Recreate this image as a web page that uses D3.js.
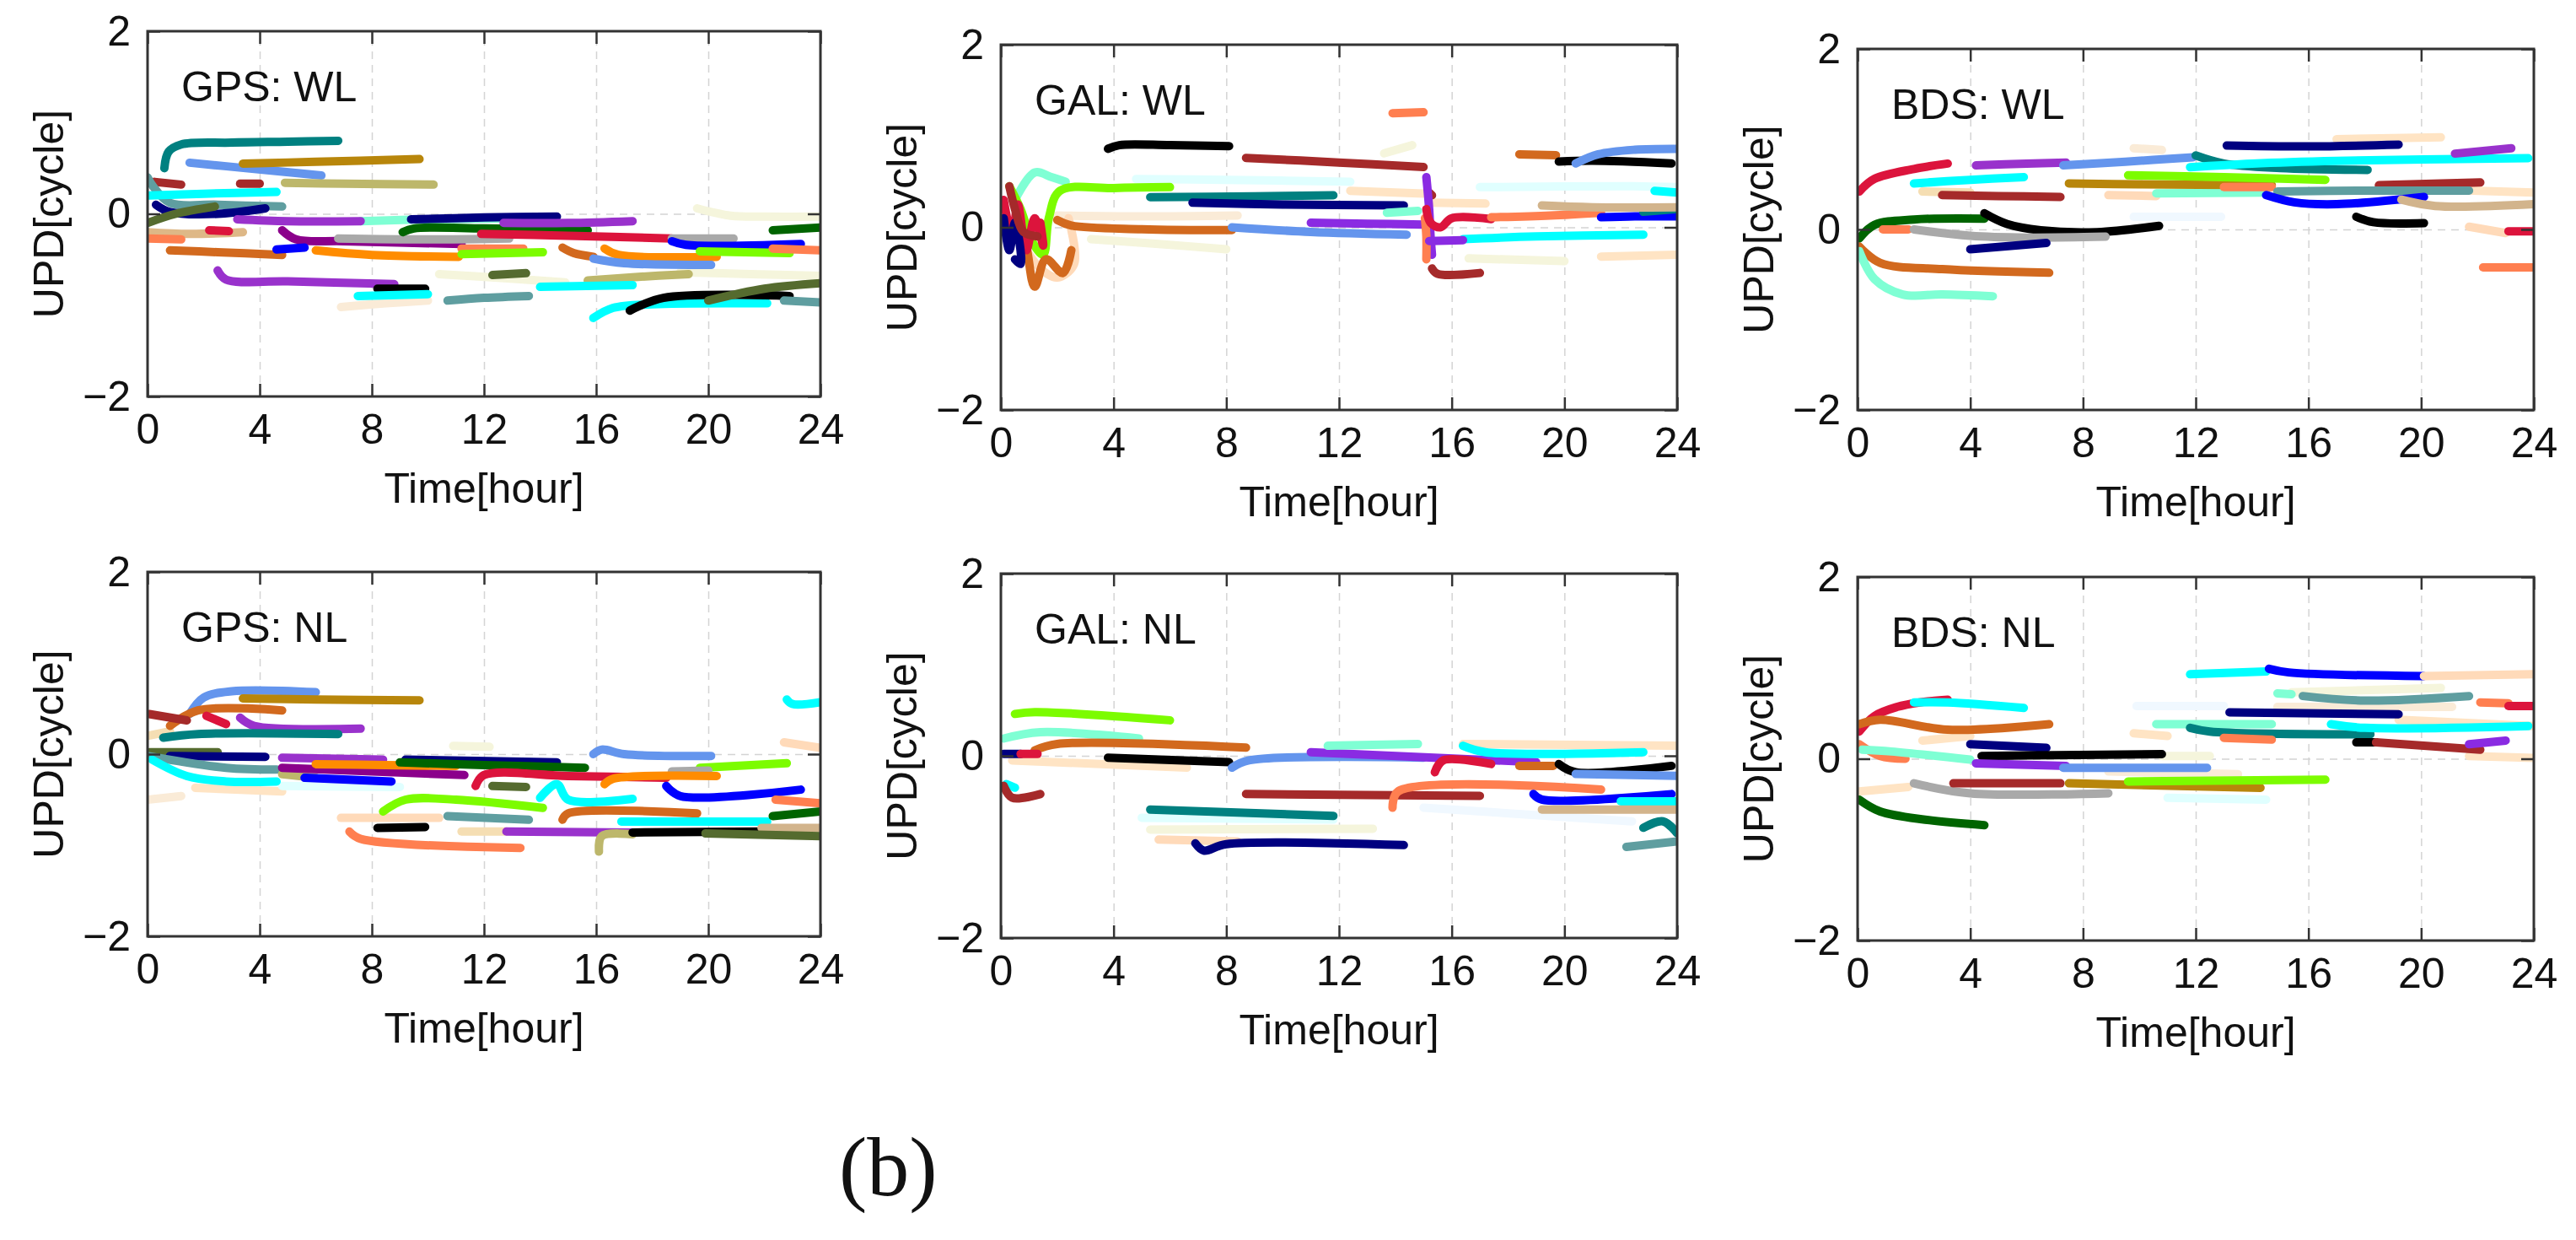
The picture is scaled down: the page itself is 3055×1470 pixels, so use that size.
<!DOCTYPE html>
<html>
<head>
<meta charset="utf-8">
<script src="https://cdn.jsdelivr.net/npm/d3@7"></script>
<style>
  body { margin: 0; background: #fff; }
  svg { display: block; }
  text { font-family: "Liberation Sans", Arial, sans-serif; fill: #111; }
</style>
</head>
<body>
<svg id="chart"></svg>
<script>
const xTicks = [0, 4, 8, 12, 16, 20, 24];
const yTicks = [-2, 0, 2];
const gridHours = [4, 8, 12, 16, 20];
const panelTitles = ['GPS: WL', 'GAL: WL', 'BDS: WL', 'GPS: NL', 'GAL: NL', 'BDS: NL'];
const xLabel = 'Time[hour]';
const yLabel = 'UPD[cycle]';
const figureTag = '(b)';

// one entry per satellite arc: [colour name, [[hour, cycle], ...]]
const gpsWL = [
  ['beige', [[10.4, -0.66], [12.5, -0.7], [14.9, -0.75]]],
  ['beige', [[19.0, -0.64], [21.5, -0.66], [24, -0.68]]],
  ['antiquewhite', [[6.9, -1.02], [8.5, -0.98], [10, -0.95]]],
  ['beige', [[19.6, 0.06], [20.8, -0.02], [22, -0.03], [24, -0.03]]],
  ['burlywood', [[0, -0.2], [1.5, -0.22], [3.4, -0.2]]],
  ['aquamarine', [[7.6, -0.08], [10, -0.06], [12.9, -0.05]]],
  ['teal', [[0.6, 0.5], [0.75, 0.68], [1.2, 0.76], [3, 0.78], [5, 0.79], [6.8, 0.8]]],
  ['cornflowerblue', [[1.5, 0.56], [3.5, 0.5], [6.2, 0.42]]],
  ['darkgoldenrod', [[3.4, 0.55], [6, 0.57], [9.7, 0.6]]],
  ['brown', [[0.25, 0.35], [1.2, 0.32]]],
  ['brown', [[3.3, 0.33], [4, 0.33]]],
  ['darkkhaki', [[4.9, 0.34], [7, 0.33], [10.2, 0.32]]],
  ['cadetblue', [[0, 0.4], [0.2, 0.3], [0.8, 0.12], [2.5, 0.1], [4.8, 0.08]]],
  ['cyan', [[0.05, 0.2], [2, 0.22], [4.6, 0.24]]],
  ['navy', [[0.3, 0.1], [0.8, 0.02], [2.5, 0.0], [4.2, 0.06]]],
  ['darkolivegreen', [[0, -0.1], [1, 0.0], [2.4, 0.08]]],
  ['darkorchid', [[3.2, -0.06], [5, -0.08], [7.6, -0.08]]],
  ['darkmagenta', [[4.8, -0.18], [5.3, -0.28], [7, -0.3], [11.2, -0.33]]],
  ['crimson', [[2.2, -0.18], [2.9, -0.19]]],
  ['coral', [[0, -0.27], [1.2, -0.28]]],
  ['chocolate', [[0.8, -0.4], [2.5, -0.42], [4.8, -0.45]]],
  ['blue', [[4.6, -0.39], [5.6, -0.37]]],
  ['darkorange', [[6, -0.4], [8, -0.45], [11.1, -0.47]]],
  ['darkgray', [[6.8, -0.27], [10, -0.28], [12.9, -0.27]]],
  ['navy', [[9.4, -0.06], [12, -0.04], [14.6, -0.03]]],
  ['darkgreen', [[9.1, -0.2], [9.5, -0.16], [12, -0.16], [15.7, -0.18]]],
  ['darkorchid', [[12.7, -0.1], [15, -0.1], [17.3, -0.08]]],
  ['crimson', [[11.9, -0.22], [15, -0.24], [18.7, -0.27]]],
  ['coral', [[11.2, -0.38], [13.4, -0.38]]],
  ['lawngreen', [[11.2, -0.44], [14.1, -0.42]]],
  ['chocolate', [[14.8, -0.37], [15.2, -0.43], [15.9, -0.47]]],
  ['darkorange', [[16.3, -0.38], [16.8, -0.45], [20.3, -0.47]]],
  ['cornflowerblue', [[15.9, -0.49], [17, -0.54], [20.1, -0.56]]],
  ['darkgray', [[18.7, -0.27], [20.9, -0.27]]],
  ['blue', [[18.7, -0.3], [19.2, -0.34], [23.3, -0.33]]],
  ['lawngreen', [[19.7, -0.41], [22.9, -0.43]]],
  ['darkgreen', [[22.3, -0.18], [24, -0.15]]],
  ['coral', [[22.3, -0.38], [24, -0.4]]],
  ['darkorchid', [[2.5, -0.62], [2.8, -0.72], [5, -0.74], [8.8, -0.77]]],
  ['black', [[8.2, -0.82], [9.9, -0.82]]],
  ['cyan', [[7.5, -0.9], [10, -0.88]]],
  ['cadetblue', [[10.7, -0.95], [12, -0.92], [13.6, -0.9]]],
  ['darkolivegreen', [[12.3, -0.67], [13.5, -0.65]]],
  ['darkkhaki', [[15.7, -0.73], [17.5, -0.69], [19.3, -0.66]]],
  ['cyan', [[14, -0.8], [17.3, -0.78]]],
  ['cyan', [[15.9, -1.14], [16.6, -1.03], [18, -0.99], [22.1, -0.98]]],
  ['black', [[17.2, -1.06], [18.4, -0.92], [22.9, -0.9]]],
  ['darkolivegreen', [[20, -0.95], [22, -0.82], [24, -0.76]]],
  ['cadetblue', [[22.7, -0.95], [24, -0.97]]]
];

const galWL = [
  ['lightcyan', [[4.8, 0.53], [8, 0.52], [12.4, 0.5]]],
  ['antiquewhite', [[2, 0.13], [5, 0.12], [8.4, 0.13]]],
  ['beige', [[3.2, -0.13], [5.5, -0.18], [8, -0.24]]],
  ['bisque', [[12.4, 0.4], [15, 0.37]]],
  ['beige', [[13.6, 0.81], [14.6, 0.9]]],
  ['lightcyan', [[17, 0.44], [22.4, 0.45], [24, 0.44]]],
  ['bisque', [[15.2, 0.27], [17.2, 0.26]]],
  ['beige', [[16.6, -0.34], [20, -0.37]]],
  ['bisque', [[21.3, -0.32], [24, -0.3]]],
  ['peachpuff', [[0.8, -0.2], [1.4, -0.45], [2, -0.55], [2.6, -0.4], [2.4, 0.1]]],
  ['aquamarine', [[0.5, 0.3], [1.2, 0.6], [1.8, 0.55], [2.3, 0.5]]],
  ['lawngreen', [[0.3, 0.45], [0.7, 0.2], [1.1, -0.15], [1.5, -0.3], [1.7, 0.1], [2.1, 0.4], [4, 0.43], [6, 0.44]]],
  ['chocolate', [[0.5, 0.25], [0.9, -0.2], [1.2, -0.65], [1.6, -0.35], [2.2, -0.5], [2.5, -0.25]]],
  ['chocolate', [[2, 0.08], [2.5, 0.02], [5, -0.02], [8.2, -0.03]]],
  ['crimson', [[0.1, 0.3], [0.4, -0.1], [0.6, 0.25], [0.9, -0.25], [1.2, 0.1], [1.5, -0.2], [1.4, 0.05]]],
  ['navy', [[0.1, 0.1], [0.3, -0.25], [0.5, 0.05], [0.7, -0.4], [0.5, -0.35]]],
  ['brown', [[0.3, 0.45], [0.5, 0.2], [0.8, -0.05], [1.3, -0.1]]],
  ['black', [[3.8, 0.86], [4.2, 0.9], [6, 0.9], [8.1, 0.89]]],
  ['coral', [[13.9, 1.25], [15, 1.26]]],
  ['brown', [[8.7, 0.76], [12, 0.71], [15, 0.66]]],
  ['brown', [[15.2, 0.38], [15.3, 0.35]]],
  ['brown', [[15.3, -0.45], [15.5, -0.51], [17, -0.5]]],
  ['chocolate', [[18.4, 0.8], [19.7, 0.79]]],
  ['black', [[19.8, 0.72], [21, 0.73], [23.8, 0.7]]],
  ['cornflowerblue', [[20.4, 0.7], [21.2, 0.8], [22.5, 0.85], [24, 0.86]]],
  ['teal', [[5.3, 0.33], [9, 0.34], [11.8, 0.35]]],
  ['navy', [[6.8, 0.27], [10, 0.25], [14.3, 0.24]]],
  ['aquamarine', [[13.7, 0.16], [14.8, 0.18]]],
  ['cornflowerblue', [[8.2, 0.0], [11, -0.05], [14.4, -0.08]]],
  ['blueviolet', [[11, 0.05], [13, 0.04], [15, 0.03]]],
  ['blueviolet', [[15.1, 0.55], [15.2, 0.2], [15.25, -0.1], [15.3, -0.3]]],
  ['coral', [[15.05, 0.1], [15.1, -0.1], [15.1, -0.35]]],
  ['crimson', [[15.1, 0.2], [15.25, 0.05], [15.6, 0.0], [16, 0.1], [17.4, 0.09]]],
  ['coral', [[17.4, 0.11], [19.5, 0.13], [21.3, 0.16]]],
  ['blue', [[21.3, 0.11], [22.5, 0.12], [24, 0.12]]],
  ['teal', [[22.8, 0.17], [24, 0.2]]],
  ['tan', [[19.2, 0.24], [21, 0.22], [24, 0.22]]],
  ['cyan', [[16.4, -0.13], [19, -0.1], [22.8, -0.08]]],
  ['cyan', [[23.2, 0.4], [24, 0.38]]],
  ['blueviolet', [[15.2, -0.15], [16.4, -0.14]]]
];

const bdsWL = [
  ['wheat', [[2.3, 0.42], [4, 0.41]]],
  ['bisque', [[17, 1.0], [20.7, 1.02]]],
  ['antiquewhite', [[9.8, 0.9], [10.8, 0.88]]],
  ['peachpuff', [[8.9, 0.38], [10.6, 0.37]]],
  ['aliceblue', [[9.8, 0.14], [12.9, 0.14]]],
  ['bisque', [[19, 0.47], [21, 0.44], [24, 0.41]]],
  ['peachpuff', [[21.7, 0.03], [23, -0.04]]],
  ['aquamarine', [[10.6, 0.4], [14.5, 0.41]]],
  ['crimson', [[0.06, 0.42], [0.6, 0.56], [2, 0.67], [3.2, 0.73]]],
  ['cyan', [[2, 0.51], [4, 0.55], [5.9, 0.58]]],
  ['darkorchid', [[4.2, 0.71], [6, 0.73], [7.4, 0.74]]],
  ['brown', [[3, 0.38], [5, 0.37], [7.2, 0.36]]],
  ['cornflowerblue', [[7.3, 0.71], [9.5, 0.75], [11.9, 0.8]]],
  ['teal', [[12, 0.82], [13, 0.73], [15, 0.68], [18.1, 0.66]]],
  ['navy', [[13.1, 0.93], [16, 0.92], [19.2, 0.94]]],
  ['darkgoldenrod', [[7.5, 0.51], [10, 0.5], [14.7, 0.49]]],
  ['lawngreen', [[9.6, 0.6], [13, 0.58], [16.6, 0.55]]],
  ['coral', [[13, 0.47], [14.7, 0.47]]],
  ['cyan', [[11.8, 0.69], [14, 0.73], [17, 0.76], [23.8, 0.79]]],
  ['darkorchid', [[21.2, 0.84], [23.2, 0.9]]],
  ['brown', [[18.5, 0.49], [22.1, 0.52]]],
  ['cadetblue', [[14.9, 0.42], [18, 0.43], [21.7, 0.43]]],
  ['blue', [[14.5, 0.38], [15.5, 0.3], [17, 0.28], [20.1, 0.36]]],
  ['tan', [[19.3, 0.33], [20.5, 0.26], [24, 0.28]]],
  ['darkgreen', [[0.06, -0.1], [0.6, 0.05], [2, 0.11], [4.5, 0.12]]],
  ['black', [[4.5, 0.18], [5.3, 0.06], [6.5, -0.01], [8.5, -0.03], [10.7, 0.04]]],
  ['coral', [[0.9, 0.0], [1.8, 0.0]]],
  ['darkgray', [[2, 0.0], [4, -0.07], [6, -0.09], [8.8, -0.08]]],
  ['navy', [[4, -0.22], [6.7, -0.15]]],
  ['chocolate', [[0.06, -0.19], [0.8, -0.37], [3, -0.44], [6.8, -0.48]]],
  ['aquamarine', [[0.06, -0.24], [0.6, -0.55], [1.6, -0.72], [3, -0.72], [4.8, -0.74]]],
  ['black', [[17.7, 0.14], [18.3, 0.08], [20.1, 0.07]]],
  ['crimson', [[23.1, -0.02], [24, -0.02]]],
  ['coral', [[22.2, -0.42], [24, -0.42]]]
];

const gpsNL = [
  ['antiquewhite', [[0, -0.5], [1.2, -0.46]]],
  ['bisque', [[1.7, -0.37], [4.8, -0.41]]],
  ['beige', [[10.9, 0.09], [12.2, 0.08]]],
  ['peachpuff', [[6.9, -0.7], [10.4, -0.7]]],
  ['wheat', [[11.2, -0.85], [12.8, -0.85]]],
  ['peachpuff', [[22.7, 0.13], [24, 0.07]]],
  ['lightcyan', [[4.8, -0.35], [9, -0.36]]],
  ['wheat', [[0, 0.2], [0.8, 0.25]]],
  ['cornflowerblue', [[1.5, 0.44], [2, 0.62], [3, 0.69], [6, 0.68]]],
  ['darkgoldenrod', [[3.4, 0.61], [6, 0.6], [9.7, 0.59]]],
  ['chocolate', [[0.8, 0.31], [1.8, 0.48], [4.8, 0.48]]],
  ['brown', [[0.06, 0.44], [1.4, 0.37]]],
  ['crimson', [[2.1, 0.42], [2.8, 0.33]]],
  ['darkorchid', [[3.3, 0.4], [3.8, 0.31], [7.6, 0.28]]],
  ['teal', [[0.56, 0.18], [1.8, 0.22], [6.8, 0.22]]],
  ['darkolivegreen', [[0.06, 0.02], [2.5, 0.02]]],
  ['navy', [[0.8, -0.02], [4.2, -0.03]]],
  ['cadetblue', [[0, -0.02], [2.8, -0.15], [4.6, -0.17]]],
  ['cyan', [[0.16, -0.06], [1.4, -0.24], [2.8, -0.3], [4.6, -0.3]]],
  ['darkorchid', [[4.8, -0.04], [8.4, -0.06]]],
  ['darkkhaki', [[4.8, -0.22], [6, -0.26]]],
  ['darkmagenta', [[4.8, -0.15], [8, -0.19], [11.3, -0.23]]],
  ['darkorange', [[6, -0.11], [8.5, -0.12], [11, -0.13]]],
  ['blue', [[5.6, -0.26], [8.7, -0.3]]],
  ['navy', [[9.2, -0.06], [14.6, -0.09]]],
  ['darkgreen', [[9, -0.09], [12, -0.12], [15.6, -0.15]]],
  ['crimson', [[11.7, -0.35], [12, -0.23], [15, -0.24], [18.5, -0.26]]],
  ['darkolivegreen', [[12.3, -0.35], [13.5, -0.36]]],
  ['cornflowerblue', [[15.9, 0.0], [16.2, 0.05], [17, 0.0], [20.1, -0.02]]],
  ['lawngreen', [[19.7, -0.15], [22.8, -0.1]]],
  ['darkgray', [[18.7, -0.19], [20, -0.18]]],
  ['darkorange', [[16.3, -0.33], [16.6, -0.27], [20.3, -0.24]]],
  ['blue', [[18.5, -0.35], [19, -0.46], [23.3, -0.39]]],
  ['cyan', [[14, -0.48], [14.6, -0.33], [15, -0.5], [17.3, -0.49]]],
  ['lawngreen', [[8.4, -0.63], [9.2, -0.5], [11, -0.5], [14.1, -0.59]]],
  ['cadetblue', [[10.7, -0.68], [13.6, -0.72]]],
  ['black', [[8.2, -0.81], [9.9, -0.8]]],
  ['chocolate', [[14.8, -0.72], [15, -0.65], [19.6, -0.65]]],
  ['cyan', [[16.9, -0.74], [22.1, -0.74]]],
  ['coral', [[7.2, -0.85], [7.6, -0.93], [13.3, -1.03]]],
  ['darkorchid', [[12.8, -0.85], [17.3, -0.86]]],
  ['darkkhaki', [[16.1, -1.07], [16.2, -0.9], [17.3, -0.88]]],
  ['black', [[17.3, -0.86], [21.9, -0.85]]],
  ['tan', [[21.9, -0.81], [24, -0.81]]],
  ['darkolivegreen', [[19.9, -0.87], [24, -0.9]]],
  ['darkgreen', [[22.3, -0.68], [24, -0.63]]],
  ['coral', [[22.4, -0.5], [24, -0.54]]],
  ['cyan', [[22.8, 0.6], [23, 0.55], [24, 0.57]]]
];

const galNL = [
  ['bisque', [[0.4, -0.05], [6.6, -0.13]]],
  ['lightcyan', [[5, -0.68], [11.8, -0.7]]],
  ['beige', [[5.3, -0.81], [13.2, -0.8]]],
  ['peachpuff', [[5.6, -0.92], [8.4, -0.94]]],
  ['bisque', [[16.4, 0.13], [24, 0.11]]],
  ['aliceblue', [[15, -0.57], [22.4, -0.72]]],
  ['lawngreen', [[0.5, 0.46], [1.2, 0.48], [6, 0.39]]],
  ['aquamarine', [[0.1, 0.19], [1.4, 0.26], [4.9, 0.19]]],
  ['chocolate', [[1.2, 0.06], [2, 0.13], [8.7, 0.09]]],
  ['navy', [[0.1, 0.02], [0.7, 0.02]]],
  ['crimson', [[0.7, 0.02], [1.3, 0.02]]],
  ['cyan', [[0.2, -0.31], [0.5, -0.35]]],
  ['black', [[3.8, -0.02], [8.1, -0.07]]],
  ['cornflowerblue', [[8.2, -0.13], [8.8, -0.05], [15, -0.02]]],
  ['blueviolet', [[11, 0.04], [19, -0.07]]],
  ['aquamarine', [[11.6, 0.11], [14.8, 0.13]]],
  ['cyan', [[16.4, 0.11], [17.2, 0.04], [22.8, 0.04]]],
  ['crimson', [[15.4, -0.18], [15.7, -0.05], [17.4, -0.09]]],
  ['chocolate', [[18.4, -0.11], [19.6, -0.11]]],
  ['black', [[19.8, -0.09], [20.4, -0.18], [23.8, -0.11]]],
  ['cornflowerblue', [[20.4, -0.2], [24, -0.22]]],
  ['brown', [[0.1, -0.33], [0.4, -0.46], [1.4, -0.42]]],
  ['brown', [[8.7, -0.42], [17, -0.44]]],
  ['coral', [[13.9, -0.57], [14.1, -0.39], [21.3, -0.37]]],
  ['blue', [[18.9, -0.42], [19.2, -0.48], [23.8, -0.42]]],
  ['cyan', [[22, -0.5], [24, -0.5]]],
  ['tan', [[19.2, -0.59], [24, -0.59]]],
  ['teal', [[5.3, -0.59], [11.8, -0.66]]],
  ['navy', [[6.9, -0.96], [7.2, -1.04], [8, -0.97], [14.3, -0.98]]],
  ['teal', [[22.8, -0.79], [23.5, -0.72], [24, -0.85]]],
  ['cadetblue', [[22.2, -1.0], [24, -0.94]]]
];

const bdsNL = [
  ['bisque', [[2.3, 0.2], [4, 0.25]]],
  ['bisque', [[9.8, 0.28], [11, 0.25]]],
  ['bisque', [[0.06, -0.36], [1.8, -0.31]]],
  ['antiquewhite', [[8.9, -0.14], [13.5, -0.17]]],
  ['aliceblue', [[9.9, 0.58], [13, 0.58]]],
  ['beige', [[15.4, 0.73], [20.7, 0.78]]],
  ['antiquewhite', [[14.9, 0.57], [21.1, 0.57]]],
  ['bisque', [[19.2, 0.43], [24, 0.36]]],
  ['bisque', [[21.7, 0.03], [24, 0.01]]],
  ['beige', [[10.8, 0.03], [12.5, 0.03]]],
  ['lightcyan', [[11, -0.43], [14.5, -0.45]]],
  ['crimson', [[0.06, 0.3], [0.6, 0.47], [1.4, 0.57], [2.2, 0.62], [3.2, 0.65]]],
  ['cyan', [[2, 0.62], [3.2, 0.62], [5.9, 0.56]]],
  ['chocolate', [[0.06, 0.38], [0.8, 0.43], [3.2, 0.32], [6.8, 0.38]]],
  ['coral', [[0.06, 0.16], [0.8, 0.03], [1.7, 0.0]]],
  ['aquamarine', [[0.16, 0.1], [1.2, 0.08], [4, -0.01]]],
  ['navy', [[4, 0.16], [6.7, 0.12]]],
  ['black', [[4.4, 0.03], [7, 0.04], [10.8, 0.05]]],
  ['blueviolet', [[4.2, -0.05], [7.4, -0.08]]],
  ['cornflowerblue', [[7.3, -0.1], [12.4, -0.1]]],
  ['darkgray', [[2, -0.27], [4, -0.38], [8.9, -0.38]]],
  ['brown', [[3.4, -0.27], [7.2, -0.27]]],
  ['darkgoldenrod', [[7.5, -0.27], [14.3, -0.32]]],
  ['lawngreen', [[9.6, -0.25], [16.6, -0.23]]],
  ['darkgreen', [[0.06, -0.45], [0.8, -0.58], [2.4, -0.67], [4.5, -0.73]]],
  ['cyan', [[11.8, 0.93], [14.5, 0.96]]],
  ['blue', [[14.6, 0.99], [15.3, 0.95], [20.1, 0.91]]],
  ['peachpuff', [[20.1, 0.91], [24, 0.93]]],
  ['aquamarine', [[14.9, 0.72], [15.4, 0.71]]],
  ['cadetblue', [[15.8, 0.69], [18, 0.64], [21.7, 0.69]]],
  ['navy', [[13.2, 0.51], [19.2, 0.49]]],
  ['coral', [[22.1, 0.62], [23.1, 0.61]]],
  ['crimson', [[23.1, 0.58], [24, 0.58]]],
  ['aquamarine', [[10.6, 0.38], [14.7, 0.38]]],
  ['teal', [[11.8, 0.34], [12.5, 0.3], [18.2, 0.27]]],
  ['coral', [[13, 0.23], [14.7, 0.21]]],
  ['cyan', [[16.8, 0.38], [18, 0.34], [23.8, 0.36]]],
  ['black', [[17.7, 0.18], [18.4, 0.18]]],
  ['brown', [[18.4, 0.18], [22.1, 0.1]]],
  ['blueviolet', [[21.7, 0.16], [23, 0.2]]]
];

const panelData = [gpsWL, galWL, bdsWL, gpsNL, galNL, bdsNL];

// page layout, pixels
const W = 3055, H = 1470;
const frames = [
  { x: 175, y: 37, w: 798, h: 433 },
  { x: 1187, y: 53, w: 802, h: 433 },
  { x: 2203, y: 58, w: 802, h: 428 },
  { x: 175, y: 678, w: 798, h: 432 },
  { x: 1187, y: 680, w: 802, h: 432 },
  { x: 2203, y: 684, w: 802, h: 431 }
];

const svg = d3.select('#chart').attr('width', W).attr('height', H);
const defs = svg.append('defs');
const intFormat = d3.format('d');

function styleAxis(g, labels) {
  g.select('.domain').remove();
  g.selectAll('.tick line').attr('stroke', '#333').attr('stroke-width', 2.5);
  g.selectAll('.tick text')
    .attr('font-size', 50)
    .attr('font-family', '"Liberation Sans", Arial, sans-serif')
    .attr('fill', '#111');
  if (!labels) g.selectAll('.tick text').remove();
}

function drawPanel(f, i) {
  const x = d3.scaleLinear().domain([0, 24]).range([0, f.w]);
  const y = d3.scaleLinear().domain([-2, 2]).range([f.h, 0]);
  const g = svg.append('g').attr('transform', `translate(${f.x},${f.y})`);

  defs.append('clipPath').attr('id', 'clip' + i)
    .append('rect').attr('width', f.w).attr('height', f.h);

  // dashed grid
  const grid = g.append('g');
  grid.append('g').attr('transform', `translate(0,${f.h})`)
    .call(d3.axisBottom(x).tickValues(gridHours).tickSize(-f.h).tickFormat(''));
  grid.append('g')
    .call(d3.axisLeft(y).tickValues([0]).tickSize(-f.w).tickFormat(''));
  grid.selectAll('.domain').remove();
  grid.selectAll('.tick line')
    .attr('stroke', '#d4d4d4').attr('stroke-width', 1.5).attr('stroke-dasharray', '9,7');

  // satellite arcs
  const line = d3.line()
    .x(d => x(d[0]))
    .y(d => y(d[1]))
    .curve(d3.curveCatmullRom.alpha(0.5));

  g.append('g').attr('clip-path', `url(#clip${i})`)
    .selectAll('path')
    .data(panelData[i])
    .join('path')
    .attr('d', d => line(d[1]))
    .attr('fill', 'none')
    .attr('stroke', d => d[0])
    .attr('stroke-width', 10)
    .attr('stroke-linecap', 'round')
    .attr('stroke-linejoin', 'round');

  // box and inward ticks
  g.append('rect').attr('width', f.w).attr('height', f.h)
    .attr('fill', 'none').attr('stroke', '#333').attr('stroke-width', 3);

  g.append('g').attr('transform', `translate(0,${f.h})`)
    .call(d3.axisBottom(x).tickValues(xTicks).tickFormat(intFormat)
      .tickSizeInner(-15).tickSizeOuter(0).tickPadding(20))
    .call(styleAxis, true);
  g.append('g')
    .call(d3.axisTop(x).tickValues(xTicks).tickSizeInner(-15).tickSizeOuter(0))
    .call(styleAxis, false);
  g.append('g')
    .call(d3.axisLeft(y).tickValues(yTicks).tickFormat(intFormat)
      .tickSizeInner(-15).tickSizeOuter(0).tickPadding(20))
    .call(styleAxis, true);
  g.append('g').attr('transform', `translate(${f.w},0)`)
    .call(d3.axisRight(y).tickValues(yTicks).tickSizeInner(-15).tickSizeOuter(0))
    .call(styleAxis, false);

  g.append('text')
    .attr('x', 40).attr('y', 83)
    .attr('font-size', 50)
    .text(panelTitles[i]);

  g.append('text')
    .attr('x', f.w / 2).attr('y', f.h + 126)
    .attr('text-anchor', 'middle')
    .attr('font-size', 50)
    .text(xLabel);

  g.append('text')
    .attr('transform', `translate(-100,${f.h / 2}) rotate(-90)`)
    .attr('text-anchor', 'middle')
    .attr('font-size', 50)
    .text(yLabel);
}

frames.forEach(drawPanel);

svg.append('text')
  .attr('x', 995).attr('y', 1417)
  .attr('font-size', 100)
  .style('font-family', '"Liberation Serif", "Times New Roman", serif')
  .text(figureTag);
</script>
</body>
</html>
